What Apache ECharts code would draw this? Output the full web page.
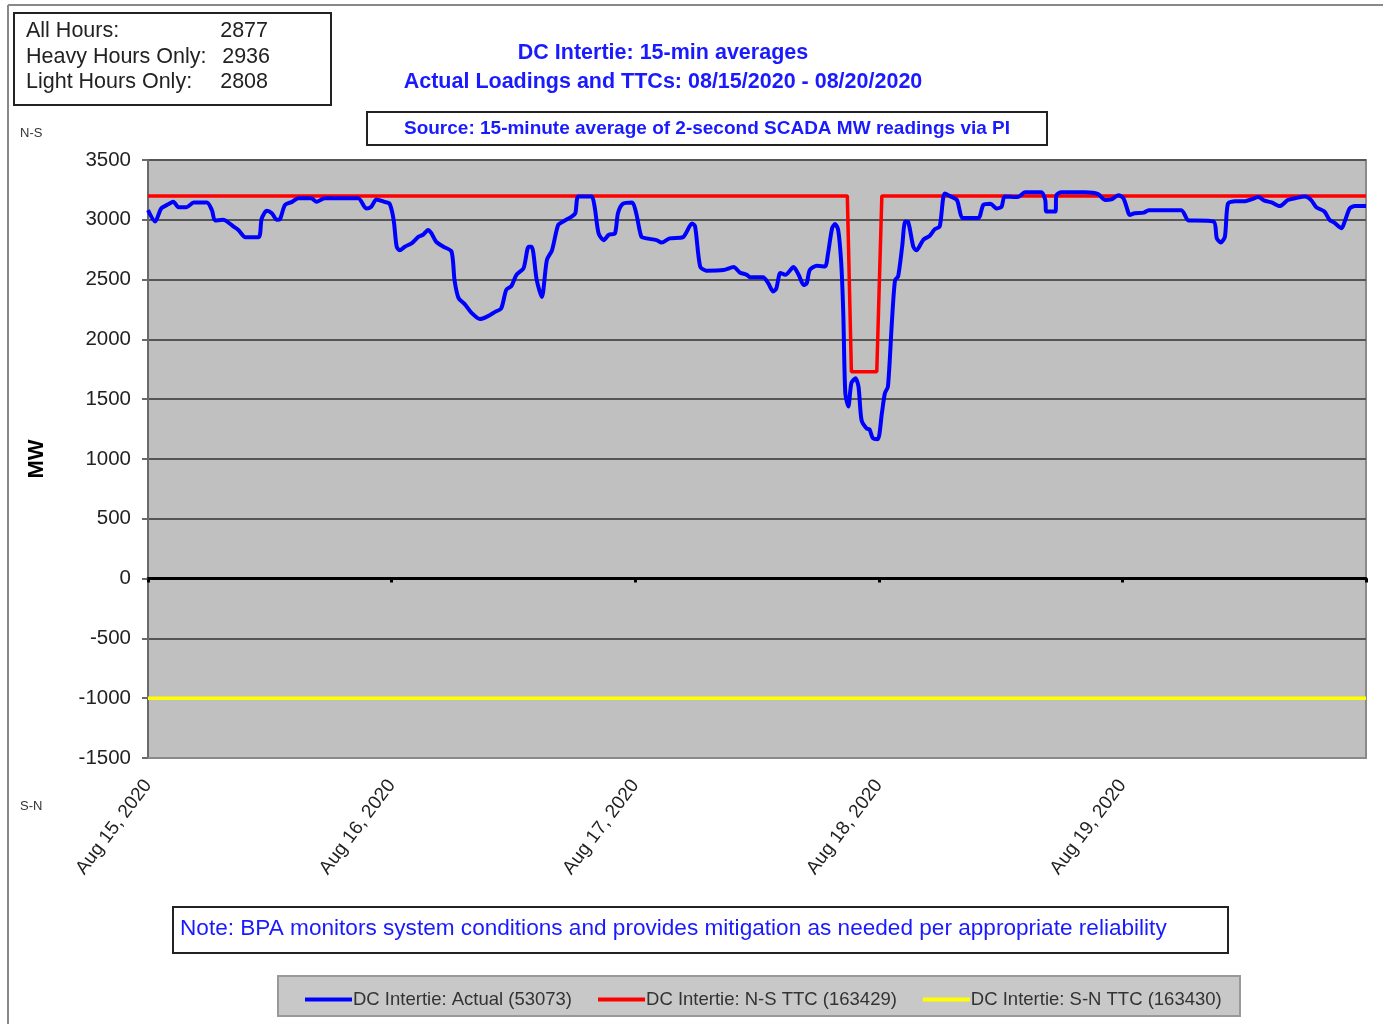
<!DOCTYPE html>
<html>
<head>
<meta charset="utf-8" />
<title>DC Intertie: 15-min averages</title>
<script src="https://cdn.jsdelivr.net/npm/echarts@6/dist/echarts.min.js"></script>
<style>
  html, body { margin: 0; padding: 0; background: #fff; }
  #chart { width: 1383px; height: 1024px; }
</style>
</head>
<body>
<div id="chart"></div>
<script>
// hours since Aug 15, 2020 00:00
var actualHours = [
  0.0,0.7,1.3,2.0,2.5,3.0,3.8,4.5,5.8,6.3,
  6.6,7.4,7.8,8.4,8.9,9.6,10.9,11.2,11.7,12.2,
  12.7,13.0,13.5,14.2,14.8,16.1,16.6,17.4,20.7,21.5,
  22.0,22.5,23.3,23.8,24.2,24.5,24.8,25.3,26.0,26.6,
  27.1,27.6,27.9,28.4,29.1,29.9,30.2,30.6,31.2,31.9,
  32.7,33.4,34.2,34.8,35.3,35.8,36.3,37.0,37.5,37.8,
  38.3,38.8,39.3,39.8,40.4,40.9,41.7,42.1,42.4,43.7,
  44.0,44.4,44.9,45.4,46.0,46.3,46.8,47.7,48.1,48.6,
  49.1,50.1,50.6,51.4,52.7,53.6,53.9,54.4,55.0,56.7,
  57.7,58.3,59.0,59.3,60.6,61.1,61.6,61.9,62.3,62.8,
  63.6,64.1,64.6,64.9,65.2,65.9,66.7,67.0,67.4,67.7,
  68.0,68.3,68.5,68.7,69.0,69.3,69.7,70.0,70.3,70.8,
  71.1,71.4,71.9,72.3,72.6,72.9,73.3,73.6,73.9,74.3,
  74.6,74.9,75.4,75.7,76.4,77.0,77.5,78.0,78.5,79.2,
  79.7,80.3,81.8,82.3,83.0,83.6,84.1,84.4,85.7,86.4,
  88.0,88.4,88.5,89.4,89.5,90.0,92.3,93.6,94.3,94.9,
  95.6,96.1,96.6,96.7,97.2,98.1,98.6,101.8,102.5,103.2,
  105.0,105.3,105.7,106.1,106.4,107.1,108.1,108.7,109.4,110.0,
  110.7,111.5,112.3,113.0,114.0,114.6,115.1,115.9,116.4,116.9,
  117.6,117.9,118.4,118.9,120.0
];
var actualMW = [
  3080,2985,3095,3130,3150,3105,3105,3145,3145,3080,
  2995,3000,2985,2945,2915,2855,2855,3010,3075,3055,
  3000,3005,3125,3150,3180,3180,3150,3180,3180,3095,
  3110,3170,3150,3135,3000,2775,2745,2775,2805,2855,
  2875,2915,2890,2815,2775,2735,2495,2345,2295,2220,
  2170,2190,2230,2260,2415,2445,2540,2595,2775,2775,
  2495,2355,2665,2745,2955,2985,3025,3055,3195,3195,
  3110,2885,2830,2875,2885,3055,3135,3145,3055,2860,
  2845,2830,2810,2845,2855,2970,2945,2610,2575,2580,
  2605,2560,2540,2520,2520,2470,2400,2425,2555,2540,
  2605,2540,2455,2470,2580,2615,2610,2720,2930,2965,
  2915,2635,2220,1550,1440,1635,1675,1605,1325,1255,
  1245,1175,1165,1380,1550,1605,2160,2495,2525,2775,
  2985,2980,2775,2745,2835,2865,2920,2945,3220,3190,
  3165,3015,3015,3125,3135,3095,3110,3195,3190,3230,
  3230,3165,3070,3070,3205,3230,3230,3215,3165,3170,
  3205,3180,3055,3040,3055,3060,3080,3080,2995,2995,
  2985,2845,2810,2860,3135,3155,3155,3170,3190,3160,
  3145,3115,3165,3180,3195,3165,3105,3070,3000,2975,
  2930,2985,3095,3115,3115
];
var nsHours = [0, 68.9, 69.3, 71.8, 72.3, 120];
var nsTTC = [3200, 3200, 1730, 1730, 3200, 3200];
var snHours = [0, 120];
var snTTC = [-1000, -1000];

var dayLabels = ['Aug 15, 2020', 'Aug 16, 2020', 'Aug 17, 2020', 'Aug 18, 2020', 'Aug 19, 2020'];
var seriesNames = ['DC Intertie: Actual (53073)', 'DC Intertie: N-S TTC (163429)', 'DC Intertie: S-N TTC (163430)'];

function pairs(xs, ys) {
  return xs.map(function (x, i) { return [x, ys[i]]; });
}

var chart = echarts.init(document.getElementById('chart'));
var blue = '#1a1aff';
var font = '"Liberation Sans", Arial, sans-serif';

var option = {
  animation: false,
  textStyle: { fontFamily: font },
  grid: {
    left: 148, right: 17, top: 160, bottom: 266,
    containLabel: false, outerBoundsMode: 'none',
    show: true, backgroundColor: '#c0c0c0', borderColor: '#8a8a8a', borderWidth: 2
  },
  legend: {
    left: 300, top: 985, padding: 5,
    icon: 'rect', itemWidth: 47, itemHeight: 4, itemGap: 26,
    textStyle: { fontSize: 18.5, color: '#333', fontFamily: font, padding: [0, 0, 0, -4] },
    data: seriesNames
  },
  xAxis: [
    {
      type: 'value', min: 0, max: 120, interval: 24, position: 'bottom',
      axisLine: { onZero: false, lineStyle: { color: '#8a8a8a', width: 2 } },
      axisTick: { show: false },
      splitLine: { show: false },
      axisLabel: {
        rotate: 53, margin: 24, fontSize: 19, color: '#222',
        formatter: function (v) { return dayLabels[Math.round(v / 24)] || ''; }
      }
    },
    {
      type: 'value', min: 0, max: 120, interval: 24, position: 'bottom',
      axisLine: { onZero: true, lineStyle: { color: '#000', width: 3 } },
      axisTick: { show: true, length: 4, lineStyle: { color: '#000', width: 3 } },
      axisLabel: { show: false },
      splitLine: { show: false }
    }
  ],
  yAxis: {
    type: 'value', min: -1500, max: 3500, interval: 500,
    name: 'MW', nameLocation: 'middle', nameGap: 100, nameRotate: 90,
    nameTextStyle: { fontSize: 22, fontWeight: 'bold', color: '#000' },
    axisLine: { show: true, lineStyle: { color: '#6a6a6a', width: 2 } },
    axisTick: { show: true, length: 6, lineStyle: { color: '#6a6a6a', width: 2 } },
    axisLabel: { fontSize: 20.5, color: '#222', margin: 17, formatter: function (v) { return String(v); } },
    splitLine: { lineStyle: { color: '#555', width: 2 } }
  },
  series: [
    {
      name: seriesNames[0], type: 'line', xAxisIndex: 0, showSymbol: false, symbol: 'none',
      smooth: 0.25, data: pairs(actualHours, actualMW),
      lineStyle: { color: '#0000ff', width: 4 }, itemStyle: { color: '#0000ff' }, z: 4
    },
    {
      name: seriesNames[1], type: 'line', xAxisIndex: 0, showSymbol: false, symbol: 'none',
      data: pairs(nsHours, nsTTC),
      lineStyle: { color: '#ff0000', width: 3.5 }, itemStyle: { color: '#ff0000' }, z: 3
    },
    {
      name: seriesNames[2], type: 'line', xAxisIndex: 0, showSymbol: false, symbol: 'none',
      data: pairs(snHours, snTTC),
      lineStyle: { color: '#ffff00', width: 3.5 }, itemStyle: { color: '#ffff00' }, z: 3
    }
  ],
  graphic: [
    // outer frame
    { type: 'line', shape: { x1: 8, y1: 5, x2: 8, y2: 1024 }, style: { stroke: '#888', lineWidth: 2 }, silent: true },
    { type: 'line', shape: { x1: 8, y1: 5, x2: 1383, y2: 5 }, style: { stroke: '#888', lineWidth: 2 }, silent: true },
    // stats box
    { type: 'rect', shape: { x: 14, y: 13, width: 317, height: 92 }, style: { fill: '#fff', stroke: '#222', lineWidth: 2 } },
    { type: 'text', style: { x: 26, y: 31, text: 'All Hours:', font: '21.5px ' + font, fill: '#222', textVerticalAlign: 'middle' } },
    { type: 'text', style: { x: 268, y: 31, text: '2877', font: '21.5px ' + font, fill: '#222', textAlign: 'right', textVerticalAlign: 'middle' } },
    { type: 'text', style: { x: 26, y: 57, text: 'Heavy Hours Only:', font: '21.5px ' + font, fill: '#222', textVerticalAlign: 'middle' } },
    { type: 'text', style: { x: 270, y: 57, text: '2936', font: '21.5px ' + font, fill: '#222', textAlign: 'right', textVerticalAlign: 'middle' } },
    { type: 'text', style: { x: 26, y: 82, text: 'Light Hours Only:', font: '21.5px ' + font, fill: '#222', textVerticalAlign: 'middle' } },
    { type: 'text', style: { x: 268, y: 82, text: '2808', font: '21.5px ' + font, fill: '#222', textAlign: 'right', textVerticalAlign: 'middle' } },
    // titles
    { type: 'text', style: { x: 663, y: 53, text: 'DC Intertie: 15-min averages', font: 'bold 21.5px ' + font, fill: blue, textAlign: 'center', textVerticalAlign: 'middle' } },
    { type: 'text', style: { x: 663, y: 82, text: 'Actual Loadings and TTCs: 08/15/2020 - 08/20/2020', font: 'bold 21.5px ' + font, fill: blue, textAlign: 'center', textVerticalAlign: 'middle' } },
    { type: 'rect', shape: { x: 367, y: 112, width: 680, height: 33 }, style: { fill: '#fff', stroke: '#222', lineWidth: 2 } },
    { type: 'text', style: { x: 707, y: 129, text: 'Source: 15-minute average of 2-second SCADA MW readings via PI', font: 'bold 19px ' + font, fill: blue, textAlign: 'center', textVerticalAlign: 'middle' } },
    // direction marks
    { type: 'text', style: { x: 20, y: 133, text: 'N-S', font: '13px ' + font, fill: '#333', textVerticalAlign: 'middle' } },
    { type: 'text', style: { x: 20, y: 806, text: 'S-N', font: '13px ' + font, fill: '#333', textVerticalAlign: 'middle' } },
    // note box
    { type: 'rect', shape: { x: 173, y: 907, width: 1055, height: 46 }, style: { fill: '#fff', stroke: '#222', lineWidth: 2 } },
    { type: 'text', style: { x: 180, y: 929, text: 'Note: BPA monitors system conditions and provides mitigation as needed per appropriate reliability', font: '22.6px ' + font, fill: blue, textVerticalAlign: 'middle' } },
    // legend box
    { type: 'rect', z: -1, shape: { x: 278, y: 976, width: 962, height: 40 }, style: { fill: '#c8c8c8', stroke: '#999', lineWidth: 2 } }
  ]
};

chart.setOption(option);
</script>
</body>
</html>
